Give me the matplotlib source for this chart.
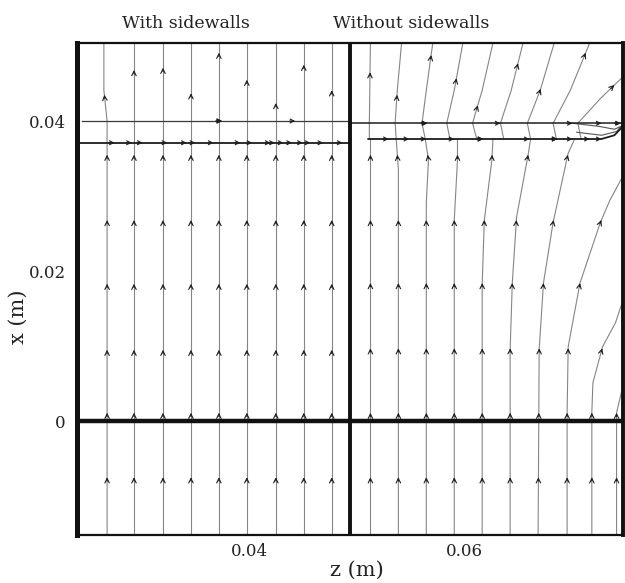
import numpy as np
import matplotlib.pyplot as plt

plt.rcParams['font.family'] = 'DejaVu Serif'

# plot window (m)
z_lim = (0.0240, 0.0748)
x_lim = (-0.0152, 0.0504)
z_split = 0.0494   # wall between the two cases
x_inlet = 0.0      # inlet plane

# ---- with sidewalls: straight streamlines ----
left_z = [0.0268, 0.0293, 0.0320, 0.0346, 0.0372, 0.0398, 0.0425, 0.0451, 0.0477]
left_arrow_x = [-0.0075, 0.0011, 0.0095, 0.0183, 0.0268, 0.0355]
left_top_arrow_x = [0.0435, 0.0468, 0.0471, 0.0437, 0.0491, 0.0455, 0.0424, 0.0475, 0.0441]
left_layer_x = [0.0400, 0.0371]
left_layer_arrow_z = [0.0275, 0.0291, 0.0301, 0.0324, 0.0342, 0.0350, 0.0367, 0.0392, 0.0403,
                      0.0420, 0.0424, 0.0432, 0.0440, 0.0450, 0.0457, 0.0469, 0.0487]
left_upper_arrow_z = [0.0375, 0.0443]

# ---- without sidewalls: streamlines below the layer (z list, x list) ----
right_lower = [
    ([0.0513, 0.0513], [-0.0152, 0.0376]),
    ([0.0539, 0.0539, 0.0537], [-0.0152, 0.0335, 0.0376]),
    ([0.0565, 0.0565, 0.0567, 0.0564], [-0.0152, 0.0291, 0.0348, 0.0376]),
    ([0.0591, 0.0591, 0.0594, 0.0594], [-0.0152, 0.0268, 0.0348, 0.0376]),
    ([0.0617, 0.0617, 0.0619, 0.0626, 0.0627], [-0.0152, 0.0184, 0.0268, 0.0348, 0.0376]),
    ([0.0643, 0.0643, 0.0645, 0.0649, 0.0660, 0.0662],
     [-0.0152, 0.0095, 0.0184, 0.0272, 0.0357, 0.0376]),
    ([0.0669, 0.0670, 0.0674, 0.0683, 0.0697, 0.0703],
     [-0.0152, 0.0095, 0.0184, 0.0265, 0.0357, 0.0376]),
    ([0.0696, 0.0696, 0.0697, 0.0708, 0.0727, 0.0736, 0.0747, 0.0748],
     [-0.0152, 0.0011, 0.0099, 0.0184, 0.0265, 0.0295, 0.0324, 0.0326]),
    ([0.0719, 0.0719, 0.0720, 0.0729, 0.0741, 0.0747, 0.0748],
     [-0.0152, 0.0011, 0.0051, 0.0099, 0.0131, 0.0157, 0.0160]),
    ([0.0742, 0.0742, 0.0747, 0.0748], [-0.0152, 0.0011, 0.0041, 0.0048]),
]
right_lower_arrow_x = [-0.0075, 0.0011, 0.0097, 0.0184, 0.0268, 0.0355]

# streamlines through and above the layer
right_upper = [
    ([0.0512, 0.0512, 0.0513], [0.0376, 0.0397, 0.0504]),
    ([0.0537, 0.0536, 0.0538, 0.0542], [0.0376, 0.0397, 0.0441, 0.0504]),
    ([0.0564, 0.0561, 0.0565, 0.0571], [0.0376, 0.0397, 0.0441, 0.0504]),
    ([0.0587, 0.0584, 0.0591, 0.0599], [0.0376, 0.0397, 0.0441, 0.0504]),
    ([0.0612, 0.0608, 0.0617, 0.0627], [0.0376, 0.0397, 0.0441, 0.0504]),
    ([0.0637, 0.0634, 0.0644, 0.0655], [0.0376, 0.0397, 0.0441, 0.0504]),
    ([0.0662, 0.0659, 0.0671, 0.0684], [0.0376, 0.0397, 0.0441, 0.0504]),
    ([0.0686, 0.0683, 0.0699, 0.0717], [0.0376, 0.0397, 0.0441, 0.0504]),
    ([0.0709, 0.0706, 0.0727, 0.0748], [0.0376, 0.0397, 0.0430, 0.0459]),
]
right_upper_arrow_x = [0.0465, 0.0435, 0.0488, 0.0457, 0.0421, 0.0477, 0.0443, 0.0491, 0.0448]

right_layer_upper = ([0.0494, 0.0748], [0.0397, 0.0397])
right_layer_lower = ([0.0511, 0.0728, 0.0740, 0.0746, 0.0748], [0.0376, 0.0376, 0.0381, 0.0390, 0.0395])
right_merge = [
    ([0.0701, 0.0725, 0.0740, 0.0748], [0.0397, 0.0393, 0.0389, 0.0394]),
    ([0.0705, 0.0728, 0.0742, 0.0748], [0.0385, 0.0381, 0.0386, 0.0396]),
]
right_upper_layer_arrow_z = [0.0566, 0.0634, 0.0701, 0.0728]
right_lower_layer_arrow_z = [0.0530, 0.0549, 0.0565, 0.0591, 0.0618, 0.0661, 0.0687, 0.0701, 0.0717, 0.0728]
blob_points = [(0.0375, 0.0400), (0.0566, 0.0397), (0.0618, 0.0376), (0.0687, 0.0376), (0.0746, 0.0397)]

line_grey = '#858585'
dark = '#1e1e1e'


def head(ax, p0, p1, filled=False, ms=8):
    ax.annotate('', xy=p1, xytext=p0, annotation_clip=False,
                arrowprops=dict(arrowstyle='-|>' if filled else '->', color=dark, lw=0.8,
                                shrinkA=0, shrinkB=0, mutation_scale=ms))


def heads_on_path(ax, zs, xs, xa_list, d=0.0005):
    for xa in xa_list:
        if xa <= xs[0] + d or xa >= xs[-1]:
            continue
        head(ax, (np.interp(xa - d, xs, zs), xa - d), (np.interp(xa, xs, zs), xa))


fig = plt.figure(figsize=(6.25, 5.83), dpi=100)
ax = fig.add_axes([77 / 625, 48 / 583, 546 / 625, 492 / 583])
ax.set_xlim(*z_lim)
ax.set_ylim(*x_lim)

# with sidewalls
for i, z in enumerate(left_z):
    if i == 0:
        zs, xs = [z, z, 0.0265, 0.0265], [x_lim[0], 0.0400, 0.0441, x_lim[1]]
    else:
        zs, xs = [z, z], [x_lim[0], x_lim[1]]
    ax.plot(zs, xs, color=line_grey, lw=0.8)
    heads_on_path(ax, zs, xs, left_arrow_x + [left_top_arrow_x[i]])

ax.plot([0.0245, z_split], [left_layer_x[0]] * 2, color='#3a3a3a', lw=0.9)
ax.plot([z_lim[0], z_split], [left_layer_x[1]] * 2, color=dark, lw=1.3)
for z in left_layer_arrow_z:
    head(ax, (z - 0.0005, left_layer_x[1]), (z, left_layer_x[1]), ms=7)
for z in left_upper_arrow_z:
    head(ax, (z - 0.0005, left_layer_x[0]), (z, left_layer_x[0]), ms=7)

# without sidewalls
for zs, xs in right_lower:
    ax.plot(zs, xs, color=line_grey, lw=0.8)
    heads_on_path(ax, zs, xs, right_lower_arrow_x)
for (zs, xs), xa in zip(right_upper, right_upper_arrow_x):
    ax.plot(zs, xs, color=line_grey, lw=0.8)
    heads_on_path(ax, zs, xs, [xa])
for zs, xs in right_merge:
    ax.plot(zs, xs, color='#555555', lw=0.8)

ax.plot(*right_layer_upper, color=dark, lw=1.1)
ax.plot(*right_layer_lower, color=dark, lw=1.3)
for z in right_upper_layer_arrow_z:
    head(ax, (z - 0.0005, right_layer_upper[1][0]), (z, right_layer_upper[1][0]), ms=7)
for z in right_lower_layer_arrow_z:
    head(ax, (z - 0.0005, right_layer_lower[1][0]), (z, right_layer_lower[1][0]), ms=7)
for z, x in blob_points:
    head(ax, (z - 0.0006, x), (z, x), filled=True, ms=7)

# walls: inlet plane and the split between both cases
ax.axhline(x_inlet, color='#111111', lw=3.2, zorder=5)
ax.axvline(z_split, color='#111111', lw=2.8, zorder=5)

for side, w in [('left', 3.6), ('right', 2.8), ('top', 1.6), ('bottom', 1.6)]:
    ax.spines[side].set_linewidth(w)
    ax.spines[side].set_color('#111111')

ax.set_xticks([0.04, 0.06])
ax.set_xticklabels(['0.04', '0.06'])
ax.set_yticks([0, 0.02, 0.04])
ax.set_yticklabels(['0', '0.02', '0.04'])
ax.tick_params(length=0, labelsize=12, colors='#222222')
ax.tick_params(axis='y', pad=8)
ax.tick_params(axis='x', pad=6)

ax.set_xlabel('z (m)', fontsize=15, color='#222222')
ax.xaxis.set_label_coords(0.513, -0.052)
ax.set_ylabel('x (m)', fontsize=15, color='#222222')
ax.yaxis.set_label_coords(-0.09, 0.443)

fig.text(186 / 625, 1 - 28 / 583, 'With sidewalls', ha='center', va='baseline', fontsize=12.5, color='#222222')
fig.text(411 / 625, 1 - 28 / 583, 'Without sidewalls', ha='center', va='baseline', fontsize=12.5, color='#222222')

fig.savefig('out.png', dpi=100)
